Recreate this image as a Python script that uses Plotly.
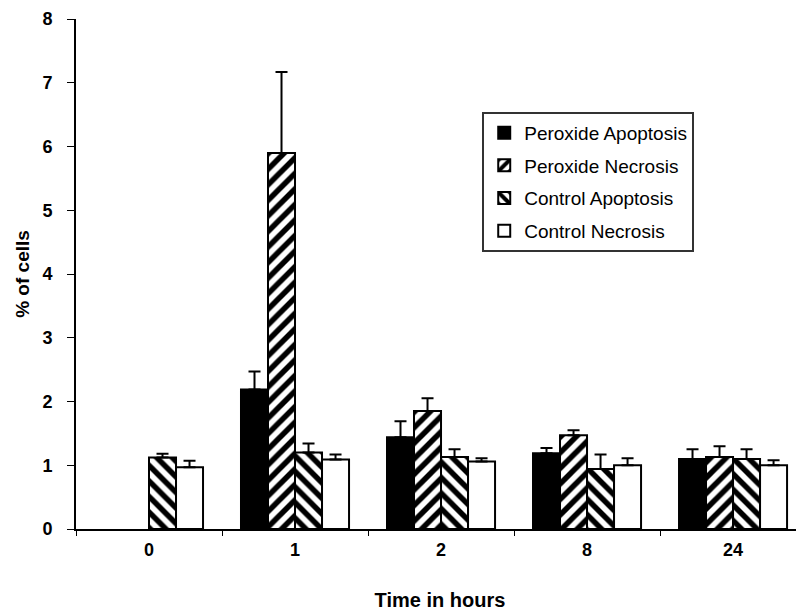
import plotly.graph_objects as go

categories = ["0", "1", "2", "8", "24"]
series_names = ["Peroxide Apoptosis", "Peroxide Necrosis", "Control Apoptosis", "Control Necrosis"]
peroxide_apoptosis = [None, 2.19, 1.44, 1.19, 1.10]
peroxide_apoptosis_err = [0, 0.28, 0.25, 0.08, 0.15]
peroxide_necrosis = [None, 5.90, 1.85, 1.47, 1.13]
peroxide_necrosis_err = [0, 1.27, 0.20, 0.08, 0.17]
control_apoptosis = [1.12, 1.20, 1.13, 0.94, 1.10]
control_apoptosis_err = [0.06, 0.14, 0.12, 0.23, 0.15]
control_necrosis = [0.97, 1.09, 1.06, 1.00, 1.00]
control_necrosis_err = [0.10, 0.08, 0.05, 0.11, 0.08]

values = [peroxide_apoptosis, peroxide_necrosis, control_apoptosis, control_necrosis]
errors = [peroxide_apoptosis_err, peroxide_necrosis_err, control_apoptosis_err, control_necrosis_err]
fills = [
    dict(color="black"),
    dict(color="white", pattern=dict(shape="/", fgcolor="black", bgcolor="white",
                                     fgopacity=1, size=11, solidity=0.5)),
    dict(color="white", pattern=dict(shape="\\", fgcolor="black", bgcolor="white",
                                     fgopacity=1, size=11, solidity=0.5)),
    dict(color="white"),
]

FONT = "Arial, Liberation Sans, sans-serif"

fig = go.Figure()
for i, (name, v, e, f) in enumerate(zip(series_names, values, errors, fills)):
    marker = dict(line=dict(color="black", width=2))
    marker.update(f)
    fig.add_trace(go.Bar(
        x=categories, y=v, name=name, marker=marker, legendgroup=f"g{i}",
        error_y=dict(type="data", array=e, arrayminus=[0] * len(e), symmetric=False,
                     color="black", thickness=2, width=6),
    ))

# page body has an 8px margin, so the figure is 8px smaller and margins shifted
fig.update_layout(
    width=796, height=606,
    margin=dict(l=68, r=0, t=11, b=85, autoexpand=False),
    paper_bgcolor="white", plot_bgcolor="white",
    barmode="group", bargap=0.26, bargroupgap=0,
    font=dict(family=FONT, color="black"),
    showlegend=True,
    legend=dict(
        x=0.558, y=0.818, xanchor="left", yanchor="top",
        bordercolor="#333", borderwidth=2, bgcolor="white",
        font=dict(family=FONT, size=19, color="black"),
        traceorder="grouped", tracegroupgap=5,
        itemwidth=30,
    ),
)
fig.update_xaxes(
    type="category", range=[-0.5, 4.486], automargin=False,
    showline=True, linecolor="black", linewidth=2,
    ticks="outside", tickson="boundaries", ticklen=5, tickwidth=1, tickcolor="black",
    ticklabelstandoff=3, ticklabeloverflow="allow",
    tickfont=dict(family=FONT, size=18, color="black", weight="bold"),
    title=dict(text="<b>Time in hours</b>", font=dict(family=FONT, size=20), standoff=34),
    showgrid=False, zeroline=False,
)
fig.update_yaxes(
    range=[0, 8], dtick=1, automargin=False,
    showline=True, linecolor="black", linewidth=2,
    ticks="outside", ticklen=7, tickwidth=1, tickcolor="black",
    ticklabelstandoff=11, ticklabeloverflow="allow",
    tickfont=dict(family=FONT, size=18, color="black", weight="bold"),
    title=dict(text="<b>% of cells</b>", font=dict(family=FONT, size=19), standoff=8),
    showgrid=False, zeroline=False,
)

fig.write_html("out.html")
